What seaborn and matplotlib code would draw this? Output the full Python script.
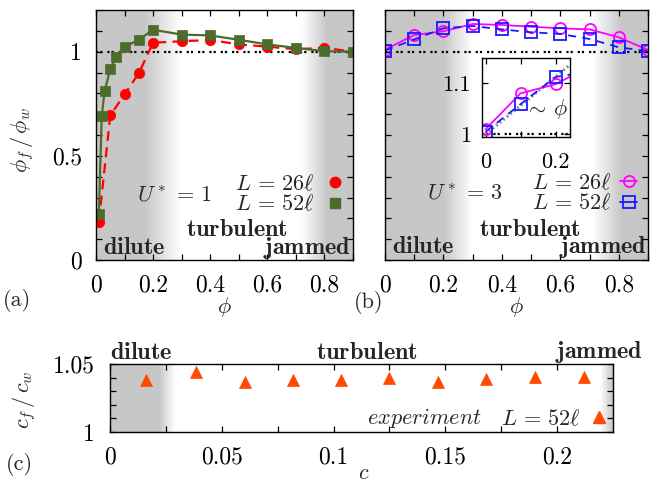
import numpy as np
import matplotlib
matplotlib.use('Agg')
import matplotlib.pyplot as plt
import seaborn as sns
from matplotlib.lines import Line2D
from matplotlib.ticker import FixedLocator

# ---------------- data ----------------
phi_a_26 = [0.01, 0.05, 0.1, 0.15, 0.2, 0.3, 0.4, 0.5, 0.6, 0.7, 0.8, 0.9]
ratio_a_26 = [0.184, 0.694, 0.795, 0.897, 1.043, 1.05, 1.056, 1.035, 1.024, 1.012, 1.018, 1.0]
phi_a_52 = [0.01, 0.02, 0.03, 0.05, 0.07, 0.1, 0.15, 0.2, 0.3, 0.4, 0.5, 0.6, 0.7, 0.8, 0.9]
ratio_a_52 = [0.22, 0.69, 0.81, 0.915, 0.975, 1.022, 1.058, 1.105, 1.082, 1.078, 1.057, 1.035, 1.018, 1.002, 1.0]

phi_b = [0.0, 0.1, 0.2, 0.3, 0.4, 0.5, 0.6, 0.7, 0.8, 0.9]
ratio_b_26 = [1.01, 1.08, 1.098, 1.133, 1.128, 1.12, 1.112, 1.107, 1.069, 1.008]
ratio_b_52 = [1.005, 1.059, 1.112, 1.123, 1.107, 1.093, 1.085, 1.061, 1.021, 1.003]

guide_phi = [0.0, 0.24]
guide_ratio = [1.0, 1.135]

c_exp = [0.016, 0.0384, 0.0603, 0.0817, 0.1034, 0.125, 0.1465, 0.1681, 0.1903, 0.212]
ratio_c = [1.0384, 1.0441, 1.0366, 1.0381, 1.0381, 1.0399, 1.0371, 1.0391, 1.0401, 1.0406]

xticks_ab = [0, 0.1, 0.2, 0.3, 0.4, 0.5, 0.6, 0.7, 0.8, 0.9]
xticklabels_ab = ['0', '', '0.2', '', '0.4', '', '0.6', '', '0.8', '']
yticks_ab = [0, 0.1, 0.2, 0.3, 0.4, 0.5, 0.6, 0.7, 0.8, 0.9, 1.0, 1.1]
yticklabels_a = ['0', '', '', '', '', '0.5', '', '', '', '', '1', '']
xticks_c = [0, 0.025, 0.05, 0.075, 0.1, 0.125, 0.15, 0.175, 0.2]
xticklabels_c = ['0', '', '0.05', '', '0.1', '', '0.15', '', '0.2']
yticks_c = [1.0, 1.01, 1.02, 1.03, 1.04, 1.05]
yticklabels_c = ['1', '', '', '', '', '1.05']

# ---------------- style ----------------
sns.set_style('ticks')
plt.rcParams.update({
    'font.family': 'serif',
    'font.serif': ['cmr10'],
    'mathtext.fontset': 'cm',
    'axes.formatter.use_mathtext': True,
    'axes.unicode_minus': False,
    'font.size': 16,
    'axes.linewidth': 1.0,
    'axes.edgecolor': 'black',
    'xtick.color': 'black',
    'ytick.color': 'black',
    'xtick.direction': 'in',
    'ytick.direction': 'in',
    'xtick.top': True,
    'ytick.right': True,
})

TICK_FS = 17
TXT_FS = 16
BOLD_FS = 17.5
GRAY = 0.78
RED = '#ff0000'
GREEN = '#4d6b2b'
MAG = '#ff00ff'
BLUE = '#1a1aff'
ORANGE = '#ff4a00'
DOT = (0, (1, 0.9, 1, 2.2))

fig = plt.figure(figsize=(6.55, 4.83), dpi=100)
W, H = 655.0, 483.0
def rect(l, t, r, b):
    return [l / W, 1 - b / H, (r - l) / W, (b - t) / H]

ax_a = fig.add_axes(rect(96, 10, 353, 260))
ax_b = fig.add_axes(rect(385, 10, 648, 260))
ax_c = fig.add_axes(rect(110, 364, 613, 432))
ax_i = fig.add_axes(rect(482, 57.5, 569.5, 137))


def shade(ax, xs, vs, x0, x1, y0, y1):
    grid = np.linspace(x0, x1, 800)
    vals = np.interp(grid, xs, vs)
    ax.imshow(vals[np.newaxis, :], extent=[x0, x1, y0, y1], aspect='auto',
              cmap='gray', vmin=0, vmax=1, zorder=0, interpolation='bilinear')
    ax.set_xlim(x0, x1)
    ax.set_ylim(y0, y1)


def ticks(ax, xt, xl, yt, yl, xpad=10, ypad=10, size=TICK_FS):
    ax.xaxis.set_major_locator(FixedLocator(xt))
    ax.set_xticklabels(xl)
    ax.yaxis.set_major_locator(FixedLocator(yt))
    ax.set_yticklabels(yl)
    ax.tick_params(axis='x', which='major', length=4.5, width=0.9, pad=xpad, labelsize=size)
    ax.tick_params(axis='y', which='major', length=4.5, width=0.9, pad=ypad, labelsize=size)
    for s in ax.spines.values():
        s.set_visible(True)
        s.set_linewidth(1.0)
        s.set_zorder(5)


# ---------------- panel (a) ----------------
shade(ax_a, [0, 0.17, 0.3, 0.72, 0.81, 0.9], [GRAY, GRAY, 1, 1, GRAY, GRAY], 0, 0.9, 0, 1.2)
ax_a.axhline(1.0, color='black', lw=1.6, ls=DOT, zorder=2)
sns.lineplot(x=phi_a_26, y=ratio_a_26, ax=ax_a, sort=False, color=RED, lw=1.6,
             linestyle=(0, (4.5, 2.8)), marker='o', markersize=7.5,
             markerfacecolor=RED, markeredgecolor=RED, markeredgewidth=0.5, zorder=3)
sns.lineplot(x=phi_a_52, y=ratio_a_52, ax=ax_a, sort=False, color=GREEN, lw=1.6,
             linestyle='-', marker='s', markersize=7.5,
             markerfacecolor=GREEN, markeredgecolor=GREEN, markeredgewidth=0.5, zorder=4)
ax_a.set_xlim(0, 0.9)
ax_a.set_ylim(0, 1.2)
ticks(ax_a, xticks_ab, xticklabels_ab, yticks_ab, yticklabels_a)
ax_a.set_xlabel(r'$\phi$', fontsize=TXT_FS)
ax_a.xaxis.set_label_coords(0.5, -0.14)
ax_a.set_ylabel(r'$\phi_f\,/\,\phi_w$', fontsize=TXT_FS)
ax_a.yaxis.set_label_coords(-0.235, 0.48)
h_a = [Line2D([], [], color=RED, marker='o', ls='none', ms=7.5, mec=RED),
       Line2D([], [], color=GREEN, marker='s', ls='none', ms=7.5, mec=GREEN)]
ax_a.legend(h_a, [r'$L\,=\,26\ell$', r'$L\,=\,52\ell$'], loc='center right',
            bbox_to_anchor=(0.955, 0.264), markerfirst=False, frameon=False,
            handlelength=0.6, handletextpad=0.6, labelspacing=0.0,
            borderpad=0, borderaxespad=0, fontsize=TXT_FS)
ax_a.text(0.307, 0.26, r'$U^*\,=\,1$', transform=ax_a.transAxes, ha='center', va='center', fontsize=TXT_FS)
ax_a.text(0.55, 0.12, r'$\mathbf{turbulent}$', transform=ax_a.transAxes, ha='center', va='center', fontsize=BOLD_FS)
ax_a.text(0.028, 0.048, r'$\mathbf{dilute}$', transform=ax_a.transAxes, ha='left', va='center', fontsize=BOLD_FS)
ax_a.text(0.992, 0.048, r'$\mathbf{jammed}$', transform=ax_a.transAxes, ha='right', va='center', fontsize=BOLD_FS)

# ---------------- panel (b) ----------------
shade(ax_b, [0, 0.2, 0.3, 0.71, 0.81, 0.9], [GRAY, GRAY, 1, 1, GRAY, GRAY], 0, 0.9, 0, 1.2)
ax_b.axhline(1.0, color='black', lw=1.6, ls=DOT, zorder=2)
sns.lineplot(x=phi_b, y=ratio_b_26, ax=ax_b, sort=False, color=MAG, lw=1.3,
             linestyle='-', marker='o', markersize=8, markerfacecolor='none',
             markeredgecolor=MAG, markeredgewidth=1.3, zorder=3)
sns.lineplot(x=phi_b, y=ratio_b_52, ax=ax_b, sort=False, color=BLUE, lw=1.3,
             linestyle=(0, (4.5, 3.5)), marker='s', markersize=8, markerfacecolor='none',
             markeredgecolor=BLUE, markeredgewidth=1.3, zorder=4)
ax_b.set_xlim(0, 0.9)
ax_b.set_ylim(0, 1.2)
ticks(ax_b, xticks_ab, xticklabels_ab, yticks_ab, [''] * len(yticks_ab))
ax_b.set_xlabel(r'$\phi$', fontsize=TXT_FS)
ax_b.xaxis.set_label_coords(0.5, -0.14)
h_b = [Line2D([], [], color=MAG, marker='o', ls='-', lw=1.3, ms=8, mfc='none', mec=MAG, mew=1.3),
       Line2D([], [], color=BLUE, marker='s', ls='-', lw=1.3, ms=8, mfc='none', mec=BLUE, mew=1.3)]
ax_b.legend(h_b, [r'$L\,=\,26\ell$', r'$L\,=\,52\ell$'], loc='center right',
            bbox_to_anchor=(0.96, 0.268), markerfirst=False, frameon=False,
            handlelength=0.8, handletextpad=0.35, labelspacing=0.0,
            borderpad=0, borderaxespad=0, fontsize=TXT_FS)
ax_b.text(0.304, 0.268, r'$U^*\,=\,3$', transform=ax_b.transAxes, ha='center', va='center', fontsize=TXT_FS)
ax_b.text(0.551, 0.12, r'$\mathbf{turbulent}$', transform=ax_b.transAxes, ha='center', va='center', fontsize=BOLD_FS)
ax_b.text(0.025, 0.052, r'$\mathbf{dilute}$', transform=ax_b.transAxes, ha='left', va='center', fontsize=BOLD_FS)
ax_b.text(0.996, 0.052, r'$\mathbf{jammed}$', transform=ax_b.transAxes, ha='right', va='center', fontsize=BOLD_FS)

# ---------------- inset ----------------
ax_i.set_facecolor('white')
ax_i.set_zorder(6)
ax_i.axhline(1.0, color='black', lw=1.6, ls=DOT, zorder=2)
sns.lineplot(x=guide_phi, y=guide_ratio, ax=ax_i, sort=False, color='#8a8a8a', lw=2.2,
             linestyle=(0, (0.6, 0.9)), zorder=2)
sns.lineplot(x=phi_b, y=ratio_b_26, ax=ax_i, sort=False, color=MAG, lw=1.3,
             linestyle='-', marker='o', markersize=8, markerfacecolor='none',
             markeredgecolor=MAG, markeredgewidth=1.3, zorder=3)
sns.lineplot(x=phi_b, y=ratio_b_52, ax=ax_i, sort=False, color=BLUE, lw=1.3,
             linestyle=(0, (4.5, 3.5)), marker='s', markersize=8, markerfacecolor='none',
             markeredgecolor=BLUE, markeredgewidth=1.3, zorder=4)
ax_i.set_xlim(-0.01, 0.24)
ax_i.set_ylim(0.995, 1.15)
ticks(ax_i, [0, 0.1, 0.2], ['0', '', '0.2'], [1.0, 1.1], ['1', '1.1'], xpad=11, ypad=8, size=16)
ax_i.text(0.74, 0.35, r'$\sim\,\phi$', transform=ax_i.transAxes, ha='center', va='center', fontsize=TXT_FS)
ax_i.set_xlabel('')
ax_i.set_ylabel('')

# ---------------- panel (c) ----------------
shade(ax_c, [0, 0.022, 0.029, 0.2195, 0.225], [GRAY, GRAY, 1, 1, GRAY], 0, 0.225, 1.0, 1.05)
sns.lineplot(x=c_exp, y=ratio_c, ax=ax_c, sort=False, color=ORANGE, lw=0,
             linestyle='none', marker='^', markersize=8.5,
             markerfacecolor=ORANGE, markeredgecolor=ORANGE, markeredgewidth=0.5, zorder=3)
ax_c.set_xlim(0, 0.225)
ax_c.set_ylim(1.0, 1.05)
ticks(ax_c, xticks_c, xticklabels_c, yticks_c, yticklabels_c, xpad=10, ypad=11)
ax_c.set_xlabel(r'$c$', fontsize=TXT_FS)
ax_c.xaxis.set_label_coords(0.505, -0.46)
ax_c.set_ylabel(r'$c_f\,/\,c_w$', fontsize=TXT_FS)
ax_c.yaxis.set_label_coords(-0.143, 0.47)
h_c = [Line2D([], [], color=ORANGE, marker='^', ls='none', ms=8.5, mec=ORANGE)]
ax_c.legend(h_c, [r'$L\,=\,52\ell$'], loc='center right',
            bbox_to_anchor=(0.986, 0.2), markerfirst=False, frameon=False,
            handlelength=0.6, handletextpad=0.55, borderpad=0, borderaxespad=0, fontsize=TXT_FS)
ax_c.text(0.625, 0.2, r'$experiment$', transform=ax_c.transAxes, ha='center', va='center', fontsize=TXT_FS)
ax_c.text(0.0, 1.17, r'$\mathbf{dilute}$', transform=ax_c.transAxes, ha='left', va='center', fontsize=BOLD_FS)
ax_c.text(0.511, 1.17, r'$\mathbf{turbulent}$', transform=ax_c.transAxes, ha='center', va='center', fontsize=BOLD_FS)
ax_c.text(1.06, 1.17, r'$\mathbf{jammed}$', transform=ax_c.transAxes, ha='right', va='center', fontsize=BOLD_FS)

# panel labels
fig.text(17 / W, 1 - 301 / H, '(a)', ha='center', va='center', fontsize=TXT_FS)
fig.text(369 / W, 1 - 303 / H, '(b)', ha='center', va='center', fontsize=TXT_FS)
fig.text(19 / W, 1 - 465 / H, '(c)', ha='center', va='center', fontsize=TXT_FS)

fig.savefig('out.png', dpi=100)
